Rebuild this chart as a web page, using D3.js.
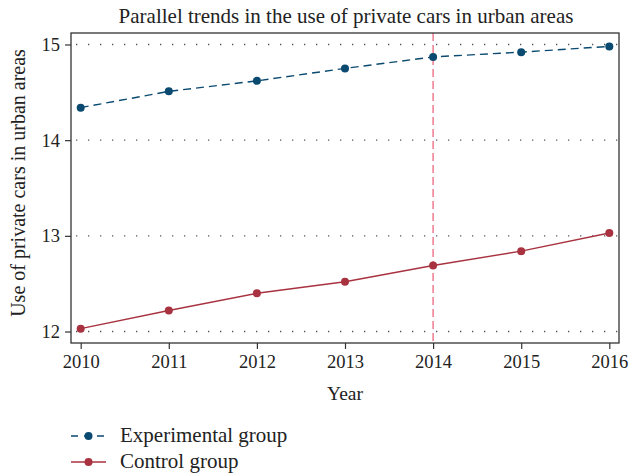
<!DOCTYPE html>
<html>
<head>
<meta charset="utf-8">
<script src="https://cdn.jsdelivr.net/npm/d3@7"></script>
<style>
  body { margin: 0; background: #fff; }
  text { font-family: "Liberation Serif", "DejaVu Serif", serif; fill: #222; }
</style>
</head>
<body>
<svg width="631" height="474"></svg>
<script>
let years = [2010, 2011, 2012, 2013, 2014, 2015, 2016];
let experimental = [14.34, 14.51, 14.62, 14.75, 14.87, 14.92, 14.98];
let control = [12.03, 12.22, 12.40, 12.52, 12.69, 12.84, 13.03];
let yTicks = [12, 13, 14, 15];
let treatYear = 2014;

let margin = {top: 33, right: 12, bottom: 131, left: 71};
let width = 631 - margin.left - margin.right;
let height = 474 - margin.top - margin.bottom;

let svg = d3.select("svg")
    .append("g")
    .attr("transform", "translate(" + margin.left + "," + margin.top + ")");

let x = d3.scaleLinear().domain([2009.89, 2016.11]).range([0, width]);
let y = d3.scaleLinear().domain([11.88, 15.12]).range([height, 0]);

// dotted gridlines
svg.selectAll(".grid")
    .data(yTicks)
    .join("line")
    .attr("x1", 0)
    .attr("x2", width)
    .attr("y1", d => y(d))
    .attr("y2", d => y(d))
    .style("stroke", "#555")
    .style("stroke-width", 1.3)
    .style("stroke-dasharray", "1.3,10.7")
    .style("stroke-dashoffset", -5);

// treatment year line
svg.append("line")
    .attr("x1", x(treatYear))
    .attr("x2", x(treatYear))
    .attr("y1", 0)
    .attr("y2", height)
    .style("stroke", "#ee7b90")
    .style("stroke-width", 1.5)
    .style("stroke-dasharray", "8,4");

// axes
let yAxis = svg.append("g")
    .call(d3.axisLeft(y).tickValues(yTicks).tickSize(6).tickPadding(5).tickFormat(d3.format("d")));
let xAxis = svg.append("g")
    .attr("transform", "translate(0," + height + ")")
    .call(d3.axisBottom(x).tickValues(years).tickSize(6).tickPadding(6).tickFormat(d3.format("d")));
[yAxis, xAxis].forEach(a => {
    a.select(".domain").remove();
    a.selectAll("line").style("stroke", "#333").style("stroke-width", 1.2);
    a.selectAll("text").style("font-size", "18.5px").attr("font-family", null).style("fill", "#222");
});

// frame
svg.append("rect")
    .attr("width", width)
    .attr("height", height)
    .style("fill", "none")
    .style("stroke", "#333")
    .style("stroke-width", 1.3);

let line = d3.line().x((d, i) => x(years[i])).y(d => y(d));

let series = [
    {name: "Experimental group", values: experimental, color: "#0a4a70", dash: "8,5"},
    {name: "Control group", values: control, color: "#a8323f", dash: null}
];

series.forEach(s => {
    svg.append("path")
        .datum(s.values)
        .attr("d", line)
        .style("fill", "none")
        .style("stroke", s.color)
        .style("stroke-width", 1.4)
        .style("stroke-dasharray", s.dash);
    svg.selectAll(null)
        .data(s.values)
        .join("circle")
        .attr("cx", (d, i) => x(years[i]))
        .attr("cy", d => y(d))
        .attr("r", 4)
        .style("fill", s.color);
});

// title and axis titles
d3.select("svg").append("text")
    .attr("x", 346)
    .attr("y", 23)
    .attr("text-anchor", "middle")
    .style("font-size", "21px")
    .text("Parallel trends in the use of private cars in urban areas");

d3.select("svg").append("text")
    .attr("x", margin.left + width / 2)
    .attr("y", 400)
    .attr("text-anchor", "middle")
    .style("font-size", "19.5px")
    .text("Year");

d3.select("svg").append("text")
    .attr("transform", "translate(25," + 183 + ") rotate(-90)")
    .attr("text-anchor", "middle")
    .style("font-size", "20px")
    .text("Use of private cars in urban areas");

// legend
let legend = d3.select("svg").append("g");
series.forEach((s, i) => {
    let ly = 436 + i * 26;
    legend.append("line")
        .attr("x1", 71).attr("x2", 106)
        .attr("y1", ly).attr("y2", ly)
        .style("stroke", s.color)
        .style("stroke-width", 1.4)
        .style("stroke-dasharray", s.dash ? "7,6" : null);
    legend.append("circle")
        .attr("cx", 88.5).attr("cy", ly).attr("r", 4)
        .style("fill", s.color);
    legend.append("text")
        .attr("x", 120)
        .attr("y", ly + 6)
        .style("font-size", "21px")
        .text(s.name);
});
</script>
</body>
</html>
